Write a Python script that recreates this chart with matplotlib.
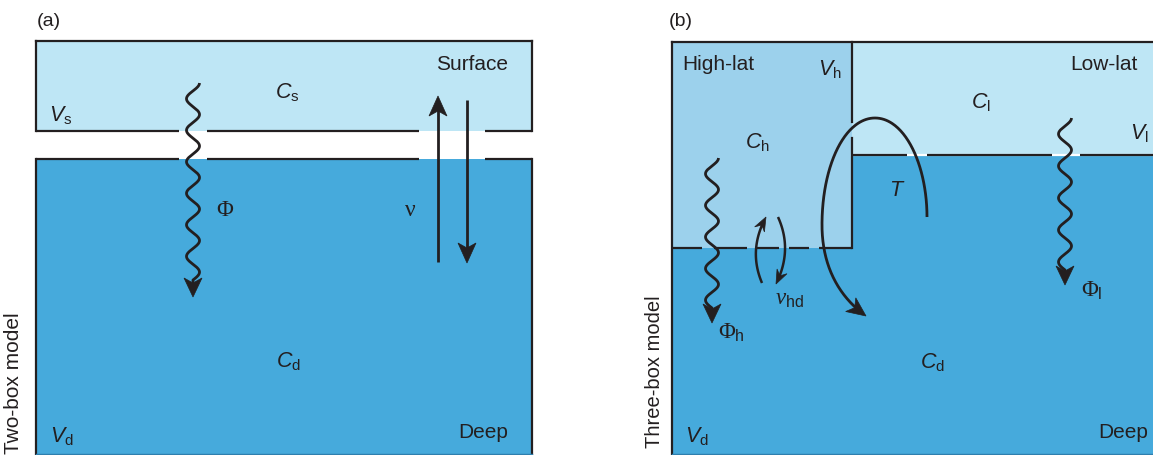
import numpy as np
import matplotlib.pyplot as plt
from matplotlib.patches import Polygon, Rectangle

plt.rcParams['font.family'] = ['Liberation Sans', 'DejaVu Sans']
plt.rcParams['mathtext.fontset'] = 'custom'
plt.rcParams['mathtext.rm'] = 'Liberation Sans'
plt.rcParams['mathtext.it'] = 'Liberation Sans:italic'
plt.rcParams['mathtext.bf'] = 'Liberation Sans:bold'
# serif Greek glyphs, as in the original figure
plt.rcParams['mathtext.sf'] = 'Liberation Serif'
plt.rcParams['mathtext.tt'] = 'Liberation Serif:italic'

INK = '#231f20'
SURF = '#bee6f5'
DEEP = '#46aadc'
HIGH = '#9cd1ec'

# panel (a) box geometry (pixels)
box_a = dict(left=36, right=532, top=41, surf_bot=131, deep_top=159, bottom=454)
gaps_a = [(179, 207), (419, 485)]
# panel (b)
box_b = dict(left=672, right=1160, top=42, split=852, low_bot=155, high_bot=248, bottom=454)
gaps_b = [(907, 927), (1052, 1080)]
dash_b = [(672, 702), (714, 747), (757, 779), (789, 809), (819, 852)]

# text labels: (x, y, text, size)
labels_a = [
    (49, 21, '(a)', 14),
    (287, 93, r'$C_{\mathrm{s}}$', 15.5),
    (61, 116, r'$V_{\mathrm{s}}$', 15.5),
    (472, 65, 'Surface', 15),
    (225, 209, r'$\mathsf{Φ}$', 16.5),
    (410, 210, r'$\mathsf{ν}$', 17),
    (288, 362, r'$C_{\mathrm{d}}$', 15.5),
    (62, 437, r'$V_{\mathrm{d}}$', 15.5),
    (483, 433, 'Deep', 15),
]
labels_b = [
    (681, 21, '(b)', 14),
    (718, 65, 'High-lat', 15),
    (830, 70, r'$V_{\mathrm{h}}$', 15.5),
    (1104, 65, 'Low-lat', 15),
    (981, 103, r'$C_{\mathrm{l}}$', 15.5),
    (1139, 134, r'$V_{\mathrm{l}}$', 15.5),
    (757, 143, r'$C_{\mathrm{h}}$', 15.5),
    (897, 190, r'$T$', 15.5),
    (731, 333, r'$\mathsf{Φ}_{\mathrm{h}}$', 16.5),
    (790, 299, r'$\mathtt{ν}_{\mathrm{hd}}$', 16.5),
    (1092, 291, r'$\mathsf{Φ}_{\mathrm{l}}$', 16.5),
    (932, 363, r'$C_{\mathrm{d}}$', 15.5),
    (697, 437, r'$V_{\mathrm{d}}$', 15.5),
    (1123, 433, 'Deep', 15),
]


def head(ax, tip, d, length=18, width=17, notch=5):
    d = np.asarray(d, float)
    d = d / np.hypot(*d)
    n = np.array([-d[1], d[0]])
    tip = np.asarray(tip, float)
    base = tip - d * length
    pts = [tip, base + n * width / 2, tip - d * (length - notch), base - n * width / 2]
    ax.add_patch(Polygon(pts, closed=True, fc=INK, ec=INK, lw=0.5, zorder=6))


def draw_curve(ax, xs, ys, hl=18, hw=17, lw=2.0):
    xs = np.asarray(xs, float); ys = np.asarray(ys, float)
    tip = (xs[-1], ys[-1])
    d = (xs[-1] - xs[-4], ys[-1] - ys[-4])
    keep = np.hypot(xs - tip[0], ys - tip[1]) > hl * 0.6
    ax.plot(xs[keep], ys[keep], color=INK, lw=lw, solid_capstyle='butt', zorder=5)
    head(ax, tip, d, hl, hw)


def straight(ax, x, y0, y1, hl=20, hw=18):
    ys = np.linspace(y0, y1, 200)
    draw_curve(ax, np.full_like(ys, x), ys, hl, hw)


def wavy(ax, xc, y0, y1, tip, amp=6.5, halfper=16.5):
    n = round((y1 - y0) / halfper) + 0.5
    y = np.linspace(y0, y1, 400)
    x = xc + amp * np.cos(np.pi * n * (y - y0) / (y1 - y0))
    # tail joining wave to arrow tip
    yt = np.linspace(y1, tip, 20)[1:]
    xs = np.concatenate([x, np.full_like(yt, xc)])
    ys = np.concatenate([y, yt])
    draw_curve(ax, xs, ys, hl=19, hw=18)


def bez(p0, p1, p2, p3, n=80):
    t = np.linspace(0, 1, n)[:, None]
    p0, p1, p2, p3 = map(np.asarray, (p0, p1, p2, p3))
    return ((1 - t) ** 3 * p0 + 3 * (1 - t) ** 2 * t * p1
            + 3 * (1 - t) * t ** 2 * p2 + t ** 3 * p3)


def qbez(p0, p1, p2, n=60):
    t = np.linspace(0, 1, n)[:, None]
    p0, p1, p2 = map(np.asarray, (p0, p1, p2))
    return (1 - t) ** 2 * p0 + 2 * (1 - t) * t * p1 + t ** 2 * p2


fig = plt.figure(figsize=(11.53, 4.55), dpi=100)
ax = fig.add_axes([0, 0, 1, 1])
ax.set_xlim(0, 1153)
ax.set_ylim(455, 0)
ax.axis('off')

# ---------- panel (a) ----------
a = box_a
ax.add_patch(Rectangle((a['left'], a['top']), a['right'] - a['left'], a['surf_bot'] - a['top'],
                       fc=SURF, ec='none', zorder=1))
ax.add_patch(Rectangle((a['left'], a['deep_top']), a['right'] - a['left'], a['bottom'] - a['deep_top'],
                       fc=DEEP, ec='none', zorder=1))
lk = dict(color=INK, lw=1.6, solid_capstyle='projecting', zorder=3)
ax.plot([a['left'], a['right']], [a['top']] * 2, **lk)
ax.plot([a['left']] * 2, [a['top'], a['surf_bot']], **lk)
ax.plot([a['right']] * 2, [a['top'], a['surf_bot']], **lk)
ax.plot([a['left']] * 2, [a['deep_top'], a['bottom']], **lk)
ax.plot([a['right']] * 2, [a['deep_top'], a['bottom']], **lk)
ax.plot([a['left'], a['right']], [a['bottom']] * 2, color='#2f7fae', lw=1.0, zorder=3)
edges = [a['left']] + [g for gp in gaps_a for g in gp] + [a['right']]
for y in (a['surf_bot'], a['deep_top']):
    for x0, x1 in zip(edges[::2], edges[1::2]):
        ax.plot([x0, x1], [y, y], color=INK, lw=1.6, solid_capstyle='butt', zorder=3)

wavy(ax, 193, 83, 280, 297)
straight(ax, 438, 262, 96)
straight(ax, 467, 100, 263)

ax.text(14, 383, 'Two-box model', rotation=90, ha='center', va='center',
        fontsize=15, color=INK)

# ---------- panel (b) ----------
b = box_b
ax.add_patch(Polygon([(b['left'], b['high_bot']), (b['split'], b['high_bot']),
                      (b['split'], b['low_bot']), (b['right'], b['low_bot']),
                      (b['right'], b['bottom']), (b['left'], b['bottom'])],
                     closed=True, fc=DEEP, ec='none', zorder=1))
ax.add_patch(Rectangle((b['split'], b['top']), b['right'] - b['split'], b['low_bot'] - b['top'] - 1,
                       fc=SURF, ec='none', zorder=1))
ax.add_patch(Rectangle((b['left'], b['top']), b['split'] - b['left'], b['high_bot'] - b['top'],
                       fc=HIGH, ec='none', zorder=1))
ax.plot([b['left'], b['right']], [b['top']] * 2, **lk)
ax.plot([b['left']] * 2, [b['top'], b['bottom']], **lk)
ax.plot([b['left'], b['right']], [b['bottom']] * 2, color='#2f7fae', lw=1.0, zorder=3)
ax.plot([b['split']] * 2, [b['top'], 122], **lk)
ax.plot([b['split']] * 2, [138, b['high_bot']], **lk)
ax.plot([b['split'], b['right']], [b['low_bot']] * 2, color='white', lw=1.6, zorder=2)
edges = [b['split']] + [g for gp in gaps_b for g in gp] + [b['right']]
for x0, x1 in zip(edges[::2], edges[1::2]):
    ax.plot([x0, x1], [b['low_bot']] * 2, color=INK, lw=1.6, solid_capstyle='butt', zorder=3)
for x0, x1 in dash_b:
    ax.plot([x0, x1], [b['high_bot']] * 2, color=INK, lw=1.6, solid_capstyle='butt', zorder=3)

wavy(ax, 712, 158, 308, 323)
wavy(ax, 1065, 118, 270, 285)

# nu_hd exchange arrows
c = qbez((762, 283), (748, 250), (766, 217))
draw_curve(ax, c[:, 0], c[:, 1], hl=14, hw=11, lw=1.8)
c = qbez((778, 217), (793, 250), (776, 284))
draw_curve(ax, c[:, 0], c[:, 1], hl=14, hw=11, lw=1.8)

# overturning T
c = np.vstack([bez((927, 217), (927, 165), (905, 118), (875, 118)),
               bez((875, 118), (845, 118), (822, 165), (822, 225))[1:],
               bez((822, 225), (822, 265), (838, 296), (866, 316))[1:]])
draw_curve(ax, c[:, 0], c[:, 1], hl=19, hw=17)

ax.text(655, 372, 'Three-box model', rotation=90, ha='center', va='center',
        fontsize=14.5, color=INK)

for x, y, s, fs in labels_a + labels_b:
    ax.text(x, y, s, ha='center', va='center', fontsize=fs, color=INK, zorder=7)

fig.savefig('out.png', dpi=100)
